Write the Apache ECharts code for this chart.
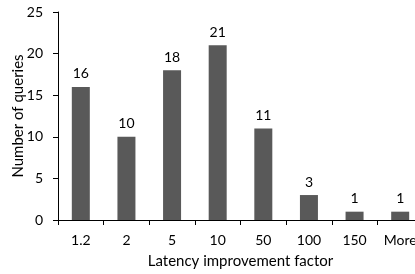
<!DOCTYPE html>
<html>
<head>
	<meta charset="UTF-8">
	<title>latency improvement</title>
	<script src="https://cdn.jsdelivr.net/npm/echarts@6/dist/echarts.min.js"></script>
	<style>
		html, body { margin: 0; padding: 0; background: #fff; }
		#chart { width: 415px; height: 274px; }
	</style>
</head>
<body>
<div id="chart"></div>
<script type="text/javascript">
	// data
	var categories = ['1.2', '2', '5', '10', '50', '100', '150', 'More'];
	var queryCounts = [16, 10, 18, 21, 11, 3, 1, 1];
	var yTicks = { min: 0, max: 25, interval: 5 };

	var myChart = echarts.init(document.getElementById('chart'));
	var font = 'Lato';

	var option = {
		animation: false,
		grid: { left: 58, top: 12, bottom: 54, right: -8, outerBoundsMode: 'none', containLabel: false },
		xAxis: {
			type: 'category',
			data: categories,
			name: 'Latency improvement factor',
			nameLocation: 'middle',
			nameGap: 34,
			nameMoveOverlap: false,
			nameTextStyle: { color: '#000', fontSize: 15, fontFamily: font },
			axisLine: { lineStyle: { color: '#000', width: 1 } },
			axisTick: { show: true, length: 5, lineStyle: { color: '#000' } },
			axisLabel: { color: '#000', fontSize: 14, fontFamily: font, margin: 13 }
		},
		yAxis: {
			type: 'value',
			min: yTicks.min,
			max: yTicks.max,
			interval: yTicks.interval,
			name: 'Number of queries',
			nameLocation: 'middle',
			nameGap: 32,
			nameMoveOverlap: false,
			nameTextStyle: { color: '#000', fontSize: 15, fontFamily: font },
			axisLine: { show: true, lineStyle: { color: '#000', width: 1 } },
			axisTick: { show: true, length: 5, lineStyle: { color: '#000' } },
			axisLabel: { color: '#000', fontSize: 14, fontFamily: font, margin: 15 },
			splitLine: { show: false }
		},
		series: [{
			type: 'bar',
			data: queryCounts,
			barWidth: 18,
			itemStyle: { color: '#595959' },
			label: { show: true, position: 'top', color: '#000', fontSize: 14, fontFamily: font, distance: 6 }
		}]
	};
	myChart.setOption(option);
</script>
</body>
</html>
